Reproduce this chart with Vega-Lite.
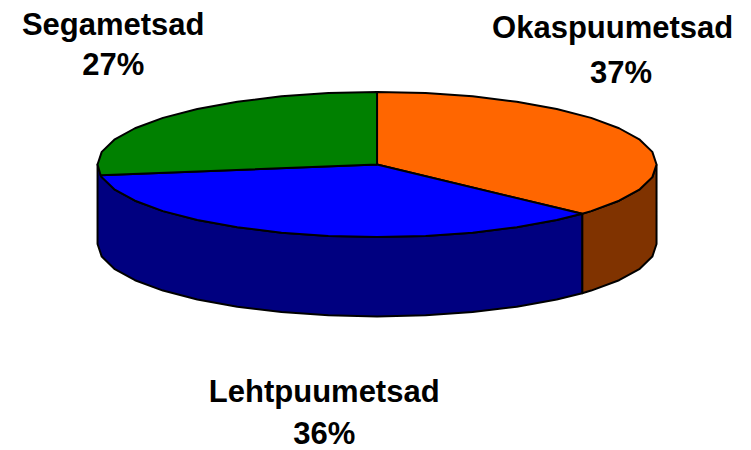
{"$schema":"https://vega.github.io/schema/vega-lite/v6.json","autosize":{"type":"fit","contains":"padding"},"width":751,"height":450,"padding":0,"background":"white","view":{"stroke":null},
"layer":[
{"data":{"values":[
{"p":"Okaspuumetsad külg","v":1,"x":1,"y":0},{"p":"Okaspuumetsad külg","v":2,"x":0.985,"y":-0.174},{"p":"Okaspuumetsad külg","v":3,"x":0.94,"y":-0.342},{"p":"Okaspuumetsad külg","v":4,"x":0.866,"y":-0.5},{"p":"Okaspuumetsad külg","v":5,"x":0.766,"y":-0.643},{"p":"Okaspuumetsad külg","v":6,"x":0.734,"y":-0.679},{"p":"Okaspuumetsad külg","v":7,"x":0.734,"y":-1.775},{"p":"Okaspuumetsad külg","v":8,"x":0.766,"y":-1.739},{"p":"Okaspuumetsad külg","v":9,"x":0.866,"y":-1.596},{"p":"Okaspuumetsad külg","v":10,"x":0.94,"y":-1.438},{"p":"Okaspuumetsad külg","v":11,"x":0.985,"y":-1.27},{"p":"Okaspuumetsad külg","v":12,"x":1,"y":-1.096},{"p":"Okaspuumetsad külg","v":13,"x":1,"y":0},
{"p":"Lehtpuumetsad külg","v":1,"x":0.734,"y":-0.679},{"p":"Lehtpuumetsad külg","v":2,"x":0.643,"y":-0.766},{"p":"Lehtpuumetsad külg","v":3,"x":0.5,"y":-0.866},{"p":"Lehtpuumetsad külg","v":4,"x":0.342,"y":-0.94},{"p":"Lehtpuumetsad külg","v":5,"x":0.174,"y":-0.985},{"p":"Lehtpuumetsad külg","v":6,"x":0,"y":-1},{"p":"Lehtpuumetsad külg","v":7,"x":-0.174,"y":-0.985},{"p":"Lehtpuumetsad külg","v":8,"x":-0.342,"y":-0.94},{"p":"Lehtpuumetsad külg","v":9,"x":-0.5,"y":-0.866},{"p":"Lehtpuumetsad külg","v":10,"x":-0.643,"y":-0.766},{"p":"Lehtpuumetsad külg","v":11,"x":-0.766,"y":-0.643},{"p":"Lehtpuumetsad külg","v":12,"x":-0.866,"y":-0.5},{"p":"Lehtpuumetsad külg","v":13,"x":-0.94,"y":-0.342},{"p":"Lehtpuumetsad külg","v":14,"x":-0.985,"y":-0.174},{"p":"Lehtpuumetsad külg","v":15,"x":-1,"y":0},{"p":"Lehtpuumetsad külg","v":16,"x":-1,"y":-1.096},{"p":"Lehtpuumetsad külg","v":17,"x":-0.985,"y":-1.27},{"p":"Lehtpuumetsad külg","v":18,"x":-0.94,"y":-1.438},{"p":"Lehtpuumetsad külg","v":19,"x":-0.866,"y":-1.596},{"p":"Lehtpuumetsad külg","v":20,"x":-0.766,"y":-1.739},{"p":"Lehtpuumetsad külg","v":21,"x":-0.643,"y":-1.862},{"p":"Lehtpuumetsad külg","v":22,"x":-0.5,"y":-1.962},{"p":"Lehtpuumetsad külg","v":23,"x":-0.342,"y":-2.036},{"p":"Lehtpuumetsad külg","v":24,"x":-0.174,"y":-2.081},{"p":"Lehtpuumetsad külg","v":25,"x":0,"y":-2.096},{"p":"Lehtpuumetsad külg","v":26,"x":0.174,"y":-2.081},{"p":"Lehtpuumetsad külg","v":27,"x":0.342,"y":-2.036},{"p":"Lehtpuumetsad külg","v":28,"x":0.5,"y":-1.962},{"p":"Lehtpuumetsad külg","v":29,"x":0.643,"y":-1.862},{"p":"Lehtpuumetsad külg","v":30,"x":0.734,"y":-1.775},{"p":"Lehtpuumetsad külg","v":31,"x":0.734,"y":-0.679},
{"p":"Okaspuumetsad","v":1,"x":0,"y":0},{"p":"Okaspuumetsad","v":2,"x":0,"y":1},{"p":"Okaspuumetsad","v":3,"x":0.174,"y":0.985},{"p":"Okaspuumetsad","v":4,"x":0.342,"y":0.94},{"p":"Okaspuumetsad","v":5,"x":0.5,"y":0.866},{"p":"Okaspuumetsad","v":6,"x":0.643,"y":0.766},{"p":"Okaspuumetsad","v":7,"x":0.766,"y":0.643},{"p":"Okaspuumetsad","v":8,"x":0.866,"y":0.5},{"p":"Okaspuumetsad","v":9,"x":0.94,"y":0.342},{"p":"Okaspuumetsad","v":10,"x":0.985,"y":0.174},{"p":"Okaspuumetsad","v":11,"x":1,"y":0},{"p":"Okaspuumetsad","v":12,"x":0.985,"y":-0.174},{"p":"Okaspuumetsad","v":13,"x":0.94,"y":-0.342},{"p":"Okaspuumetsad","v":14,"x":0.866,"y":-0.5},{"p":"Okaspuumetsad","v":15,"x":0.766,"y":-0.643},{"p":"Okaspuumetsad","v":16,"x":0.734,"y":-0.679},{"p":"Okaspuumetsad","v":17,"x":0,"y":0},
{"p":"Lehtpuumetsad","v":1,"x":0,"y":0},{"p":"Lehtpuumetsad","v":2,"x":0.734,"y":-0.679},{"p":"Lehtpuumetsad","v":3,"x":0.643,"y":-0.766},{"p":"Lehtpuumetsad","v":4,"x":0.5,"y":-0.866},{"p":"Lehtpuumetsad","v":5,"x":0.342,"y":-0.94},{"p":"Lehtpuumetsad","v":6,"x":0.174,"y":-0.985},{"p":"Lehtpuumetsad","v":7,"x":0,"y":-1},{"p":"Lehtpuumetsad","v":8,"x":-0.174,"y":-0.985},{"p":"Lehtpuumetsad","v":9,"x":-0.342,"y":-0.94},{"p":"Lehtpuumetsad","v":10,"x":-0.5,"y":-0.866},{"p":"Lehtpuumetsad","v":11,"x":-0.643,"y":-0.766},{"p":"Lehtpuumetsad","v":12,"x":-0.766,"y":-0.643},{"p":"Lehtpuumetsad","v":13,"x":-0.866,"y":-0.5},{"p":"Lehtpuumetsad","v":14,"x":-0.94,"y":-0.342},{"p":"Lehtpuumetsad","v":15,"x":-0.985,"y":-0.174},{"p":"Lehtpuumetsad","v":16,"x":-0.989,"y":-0.148},{"p":"Lehtpuumetsad","v":17,"x":0,"y":0},
{"p":"Segametsad","v":1,"x":0,"y":0},{"p":"Segametsad","v":2,"x":-0.989,"y":-0.148},{"p":"Segametsad","v":3,"x":-1,"y":0},{"p":"Segametsad","v":4,"x":-0.985,"y":0.174},{"p":"Segametsad","v":5,"x":-0.94,"y":0.342},{"p":"Segametsad","v":6,"x":-0.866,"y":0.5},{"p":"Segametsad","v":7,"x":-0.766,"y":0.643},{"p":"Segametsad","v":8,"x":-0.643,"y":0.766},{"p":"Segametsad","v":9,"x":-0.5,"y":0.866},{"p":"Segametsad","v":10,"x":-0.342,"y":0.94},{"p":"Segametsad","v":11,"x":-0.174,"y":0.985},{"p":"Segametsad","v":12,"x":0,"y":1},{"p":"Segametsad","v":13,"x":0,"y":0}
]},
"mark":{"type":"line","filled":true,"stroke":"black","strokeWidth":2,"strokeJoin":"round","clip":false},
"encoding":{
"x":{"field":"x","type":"quantitative","axis":null,"scale":{"domain":[-1.349,1.338],"nice":false,"zero":false}},
"y":{"field":"y","type":"quantitative","axis":null,"scale":{"domain":[-3.938,2.269],"nice":false,"zero":false}},
"order":{"field":"v","type":"quantitative"},
"fill":{"field":"p","type":"nominal","legend":null,"sort":null,"scale":{"domain":["Okaspuumetsad külg","Lehtpuumetsad külg","Okaspuumetsad","Lehtpuumetsad","Segametsad"],"range":["#803300","#000080","#FF6600","#0000FF","#008000"]}}
}},
{"data":{"values":[
{"t":"Okaspuumetsad","x":0.843,"y":1.87},{"t":"37%","x":0.873,"y":1.255},
{"t":"Lehtpuumetsad","x":-0.189,"y":-3.145},{"t":"36%","x":-0.189,"y":-3.73},
{"t":"Segametsad","x":-0.944,"y":1.91},{"t":"27%","x":-0.944,"y":1.365}
]},
"mark":{"type":"text","font":"Liberation Sans","fontWeight":"bold","fontSize":31,"color":"black","align":"center","baseline":"middle"},
"encoding":{
"x":{"field":"x","type":"quantitative","axis":null},
"y":{"field":"y","type":"quantitative","axis":null},
"text":{"field":"t","type":"nominal"}
}}
]}
